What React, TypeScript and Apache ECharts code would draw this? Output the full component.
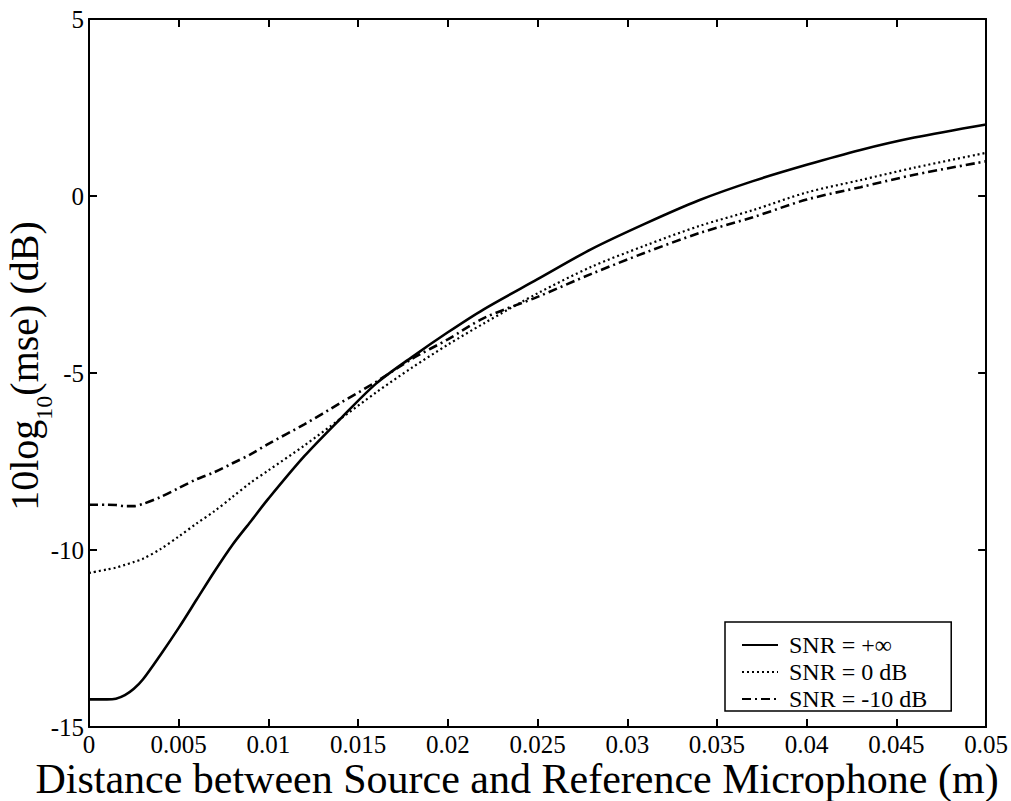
import React, { useEffect, useRef } from "react";
import * as echarts from "echarts";

const distances = [0, 0.001, 0.0015, 0.002, 0.0025, 0.003, 0.004, 0.005, 0.006, 0.007, 0.008, 0.009, 0.010, 0.012, 0.014, 0.016, 0.018, 0.020, 0.022, 0.025, 0.028, 0.031, 0.034, 0.037, 0.040, 0.043, 0.046, 0.050];
const snrInf = [-14.22, -14.22, -14.2, -14.1, -13.92, -13.66, -12.95, -12.2, -11.4, -10.6, -9.85, -9.2, -8.55, -7.35, -6.3, -5.3, -4.55, -3.85, -3.2, -2.35, -1.5, -0.78, -0.12, 0.42, 0.88, 1.3, 1.65, 2.02];
const snr0 = [-10.65, -10.55, -10.5, -10.42, -10.34, -10.25, -9.97, -9.62, -9.25, -8.9, -8.5, -8.1, -7.75, -7.05, -6.3, -5.55, -4.85, -4.2, -3.6, -2.75, -2.0, -1.4, -0.85, -0.4, 0.1, 0.45, 0.8, 1.22];
const snrM10 = [-8.72, -8.72, -8.73, -8.76, -8.76, -8.7, -8.5, -8.25, -8.0, -7.8, -7.55, -7.3, -7.0, -6.45, -5.85, -5.25, -4.6, -4.05, -3.45, -2.85, -2.2, -1.6, -1.05, -0.6, -0.1, 0.25, 0.6, 0.98];
const seriesNames = ["SNR = +\u221e", "SNR = 0 dB", "SNR = -10 dB"];
const xTitle = "Distance between Source and Reference Microphone (m)";

const FONT = "Liberation Serif";

function pairs(vals: number[]) {
  return distances.map((d, i) => [d, vals[i]]);
}

export default function App() {
  const ref = useRef<HTMLDivElement>(null);
  useEffect(() => {
    if (!ref.current) return;
    const chart = echarts.init(ref.current, undefined, { renderer: "svg" });
    const axisLine = { show: true, onZero: false, lineStyle: { color: "#000", width: 2 } };
    const axisTick = { show: true, inside: true, length: 8, lineStyle: { color: "#000", width: 2 } };
    const xFmt = (v: number) => String(+v.toFixed(3));
    chart.setOption({
      animation: false,
      backgroundColor: "#fff",
      grid: { left: 89, right: 21, top: 19, bottom: 74, containLabel: false },
      xAxis: [
        {
          type: "value", min: 0, max: 0.05, interval: 0.005, position: "bottom",
          axisLine, axisTick, splitLine: { show: false },
          axisLabel: { color: "#000", fontFamily: FONT, fontSize: 25, margin: 6, lineHeight: 22, formatter: xFmt },
        },
        {
          type: "value", min: 0, max: 0.05, interval: 0.005, position: "top",
          axisLine, axisTick, splitLine: { show: false }, axisLabel: { show: false },
        },
      ],
      yAxis: [
        {
          type: "value", min: -15, max: 5, interval: 5, position: "left",
          axisLine, axisTick, splitLine: { show: false },
          axisLabel: { color: "#000", fontFamily: FONT, fontSize: 25, margin: 5 },
        },
        {
          type: "value", min: -15, max: 5, interval: 5, position: "right",
          axisLine, axisTick, splitLine: { show: false }, axisLabel: { show: false },
        },
      ],
      legend: {
        orient: "vertical",
        left: 725,
        top: 622,
        backgroundColor: "#fff",
        borderColor: "#000",
        borderWidth: 1.5,
        borderRadius: 0,
        padding: [11, 24, 0, 16],
        itemWidth: 36,
        itemHeight: 12,
        itemGap: 3,
        itemStyle: { opacity: 0 },
        textStyle: { color: "#000", fontFamily: FONT, fontSize: 24, padding: [0, 0, 0, 6] },
        data: seriesNames,
      },
      series: [
        {
          name: seriesNames[0], type: "line", data: pairs(snrInf), smooth: 0.3,
          showSymbol: false, symbol: "none", lineStyle: { color: "#000", width: 2.6, type: "solid" },
          itemStyle: { color: "#000" },
        },
        {
          name: seriesNames[1], type: "line", data: pairs(snr0), smooth: 0.3,
          showSymbol: false, symbol: "none", lineStyle: { color: "#000", width: 2.2, type: [2, 3] },
          itemStyle: { color: "#000" },
        },
        {
          name: seriesNames[2], type: "line", data: pairs(snrM10), smooth: 0.3,
          showSymbol: false, symbol: "none", lineStyle: { color: "#000", width: 2.6, type: [9, 4, 2, 4] },
          itemStyle: { color: "#000" },
        },
      ],
      graphic: [
        {
          type: "text",
          x: 517,
          y: 779,
          style: {
            text: xTitle,
            font: `42px "Liberation Serif"`,
            fill: "#000",
            align: "center",
            verticalAlign: "middle",
          },
        },
        {
          type: "text",
          x: 24,
          y: 366,
          rotation: Math.PI / 2,
          style: {
            text: "{a|10log}{b|10}{a|(mse) (dB)}",
            align: "center",
            verticalAlign: "middle",
            rich: {
              a: { fontFamily: FONT, fontSize: 40, lineHeight: 40, verticalAlign: "top", fill: "#000" },
              b: { fontFamily: FONT, fontSize: 24, lineHeight: 24, padding: [28, 0, 0, 0], verticalAlign: "top", fill: "#000" },
            },
          },
        },
      ],
    });
    return () => chart.dispose();
  }, []);
  return (
    <div
      ref={ref}
      style={{ position: "fixed", left: 0, top: 0, width: 1011, height: 801, background: "#fff" }}
    />
  );
}
